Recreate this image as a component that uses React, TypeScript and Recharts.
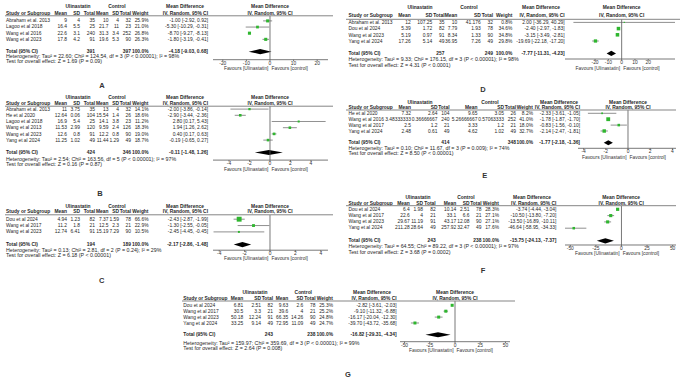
import React from 'react';
import { ScatterChart, Scatter, XAxis, YAxis, ReferenceLine, ReferenceArea } from 'recharts';

type Row = {
  study: string;
  uMean: string; uSd: string; uN: number;
  cMean: string; cSd: string; cN: number;
  weight: number; md: number; lo: number; hi: number;
};
type Total = { uN: number; cN: number; md: number; lo: number; hi: number };

// ---- A ----
const rowsA: Row[] = [
  { study: 'Abraham et al. 2013', uMean: '9', uSd: '4', uN: 35, cMean: '10', cSd: '4', cN: 32, weight: 25.9, md: -1.0, lo: -2.92, hi: 0.92 },
  { study: 'Lagoo et al 2018', uMean: '16.4', uSd: '5.5', uN: 25, cMean: '21.7', cSd: '11', cN: 23, weight: 21.0, md: -5.3, lo: -10.29, hi: -0.31 },
  { study: 'Wang et al 2016', uMean: '22.6', uSd: '3.1', uN: 240, cMean: '31.3', cSd: '3.4', cN: 252, weight: 26.8, md: -8.7, lo: -9.27, hi: -8.13 },
  { study: 'Wang et al 2023', uMean: '17.8', uSd: '4.2', uN: 91, cMean: '19.6', cSd: '5.3', cN: 90, weight: 26.3, md: -1.8, lo: -3.19, hi: -0.41 },
];
const totalA: Total = { uN: 391, cN: 397, md: -4.18, lo: -9.03, hi: 0.68 };
const statsA = ['Heterogeneity: Tau² = 22.60; Chi² = 124.54, df = 3 (P < 0.00001); I² = 98%', 'Test for overall effect: Z = 1.69 (P = 0.09)'];
const ticksA = [-20, -10, 0, 10, 20];

// ---- B ----
const rowsB: Row[] = [
  { study: 'Abraham et al. 2013', uMean: '11', uSd: '3.75', uN: 35, cMean: '13', cSd: '4', cN: 32, weight: 14.1, md: -2.0, lo: -3.86, hi: -0.14 },
  { study: 'He et al 2020', uMean: '12.64', uSd: '0.06', uN: 104, cMean: '15.54', cSd: '1.4', cN: 26, weight: 18.6, md: -2.9, lo: -3.44, hi: -2.36 },
  { study: 'Lagoo et al 2018', uMean: '16.9', uSd: '5.4', uN: 25, cMean: '14.1', cSd: '3.8', cN: 23, weight: 11.2, md: 2.8, lo: 0.17, hi: 5.43 },
  { study: 'Wang et al 2013', uMean: '11.53', uSd: '2.99', uN: 120, cMean: '9.59', cSd: '2.4', cN: 126, weight: 18.3, md: 1.94, lo: 1.26, hi: 2.62 },
  { study: 'Wang et al 2023', uMean: '12.6', uSd: '0.8', uN: 91, cMean: '12.2', cSd: '0.8', cN: 90, weight: 19.0, md: 0.4, lo: 0.17, hi: 0.63 },
  { study: 'Yang et al 2024', uMean: '11.25', uSd: '1.02', uN: 49, cMean: '11.44', cSd: '1.29', cN: 49, weight: 18.7, md: -0.19, lo: -0.65, hi: 0.27 },
];
const totalB: Total = { uN: 424, cN: 346, md: -0.11, lo: -1.48, hi: 1.26 };
const statsB = ['Heterogeneity: Tau² = 2.54; Chi² = 163.56, df = 5 (P < 0.00001); I² = 97%', 'Test for overall effect: Z = 0.16 (P = 0.87)'];
const ticksB = [-4, -2, 0, 2, 4];

// ---- C ----
const rowsC: Row[] = [
  { study: 'Dou et al 2024', uMean: '4.94', uSd: '1.23', uN: 82, cMean: '7.37', cSd: '1.59', cN: 78, weight: 66.6, md: -2.43, lo: -2.87, hi: -1.99 },
  { study: 'Wang et al 2017', uMean: '11.2', uSd: '1.8', uN: 21, cMean: '12.5', cSd: '2.3', cN: 21, weight: 22.9, md: -1.3, lo: -2.55, hi: -0.05 },
  { study: 'Wang et al 2023', uMean: '12.74', uSd: '6.41', uN: 91, cMean: '15.19', cSd: '7.29', cN: 90, weight: 10.5, md: -2.45, lo: -4.45, hi: -0.45 },
];
const totalC: Total = { uN: 194, cN: 189, md: -2.17, lo: -2.86, hi: -1.48 };
const statsC = ['Heterogeneity: Tau² = 0.13; Chi² = 2.81, df = 2 (P = 0.24); I² = 29%', 'Test for overall effect: Z = 6.18 (P < 0.00001)'];
const ticksC = [-4, -2, 0, 2, 4];

// ---- D ----
const rowsD: Row[] = [
  { study: 'Abraham et al. 2013', uMean: '12', uSd: '107.25', uN: 35, cMean: '10', cSd: '41.176', cN: 32, weight: 0.8, md: 2.0, lo: -36.29, hi: 40.29 },
  { study: 'Dou et al 2024', uMean: '5.39', uSd: '1.72', uN: 82, cMean: '7.79', cSd: '1.93', cN: 78, weight: 34.6, md: -2.4, lo: -2.97, hi: -1.83 },
  { study: 'Wang et al 2023', uMean: '5.19', uSd: '0.97', uN: 91, cMean: '8.34', cSd: '1.33', cN: 90, weight: 34.8, md: -3.15, lo: -3.49, hi: -2.81 },
  { study: 'Yang et al 2024', uMean: '17.26', uSd: '5.14', uN: 49, cMean: '36.95', cSd: '7.26', cN: 49, weight: 29.8, md: -19.69, lo: -22.18, hi: -17.2 },
];
const totalD: Total = { uN: 257, cN: 249, md: -7.77, lo: -11.31, hi: -4.23 };
const statsD = ['Heterogeneity: Tau² = 9.33; Chi² = 176.15, df = 3 (P < 0.00001); I² = 98%', 'Test for overall effect: Z = 4.31 (P < 0.0001)'];
const ticksD = [-20, -10, 0, 10, 20];

// ---- E ----
const rowsE: Row[] = [
  { study: 'He et al 2020', uMean: '7.32', uSd: '2.64', uN: 104, cMean: '9.65', cSd: '3.05', cN: 26, weight: 8.2, md: -2.33, lo: -3.61, hi: -1.05 },
  { study: 'Wang et al 2016', uMean: '3.48333333', uSd: '0.36666667', uN: 240, cMean: '5.26666667', cSd: '0.57063333', cN: 252, weight: 41.0, md: -1.78, lo: -1.87, hi: -1.7 },
  { study: 'Wang et al 2017', uMean: '2.5', uSd: '1.2', uN: 21, cMean: '3.33', cSd: '1.2', cN: 21, weight: 18.0, md: -0.83, lo: -1.56, hi: -0.1 },
  { study: 'Yang et al 2024', uMean: '2.48', uSd: '0.61', uN: 49, cMean: '4.62', cSd: '1.02', cN: 49, weight: 32.7, md: -2.14, lo: -2.47, hi: -1.81 },
];
const totalE: Total = { uN: 414, cN: 348, md: -1.77, lo: -2.18, hi: -1.36 };
const statsE = ['Heterogeneity: Tau² = 0.10; Chi² = 11.67, df = 3 (P = 0.009); I² = 74%', 'Test for overall effect: Z = 8.50 (P < 0.00001)'];
const ticksE = [-4, -2, 0, 2, 4];

// ---- F ----
const rowsF: Row[] = [
  { study: 'Dou et al 2024', uMean: '6.4', uSd: '1.98', uN: 82, cMean: '10.14', cSd: '2.51', cN: 78, weight: 28.3, md: -3.74, lo: -4.44, hi: -3.04 },
  { study: 'Wang et al 2017', uMean: '22.6', uSd: '4', uN: 21, cMean: '33.1', cSd: '6.6', cN: 21, weight: 27.1, md: -10.5, lo: -13.8, hi: -7.2 },
  { study: 'Wang et al 2023', uMean: '29.67', uSd: '11.19', uN: 91, cMean: '43.17', cSd: '12.08', cN: 90, weight: 27.1, md: -13.5, lo: -16.89, hi: -10.11 },
  { study: 'Yang et al 2024', uMean: '211.28', uSd: '28.64', uN: 49, cMean: '257.92', cSd: '32.47', cN: 49, weight: 17.6, md: -46.64, lo: -58.95, hi: -34.33 },
];
const totalF: Total = { uN: 243, cN: 238, md: -15.75, lo: -24.13, hi: -7.37 };
const statsF = ['Heterogeneity: Tau² = 64.55; Chi² = 89.22, df = 3 (P < 0.00001); I² = 97%', 'Test for overall effect: Z = 3.68 (P = 0.0002)'];
const ticksF = [-50, -25, 0, 25, 50];

// ---- G ----
const rowsG: Row[] = [
  { study: 'Dou et al 2024', uMean: '6.81', uSd: '2.51', uN: 82, cMean: '9.63', cSd: '2.6', cN: 78, weight: 25.3, md: -2.82, lo: -3.61, hi: -2.03 },
  { study: 'Wang et al 2017', uMean: '30.5', uSd: '3.3', uN: 21, cMean: '39.6', cSd: '4', cN: 21, weight: 25.2, md: -9.1, lo: -11.32, hi: -6.88 },
  { study: 'Wang et al 2023', uMean: '50.18', uSd: '12.24', uN: 91, cMean: '66.35', cSd: '14.26', cN: 90, weight: 24.8, md: -16.17, lo: -20.04, hi: -12.3 },
  { study: 'Yang et al 2024', uMean: '33.25', uSd: '9.14', uN: 49, cMean: '72.95', cSd: '11.09', cN: 49, weight: 24.7, md: -39.7, lo: -43.72, hi: -35.68 },
];
const totalG: Total = { uN: 243, cN: 238, md: -16.82, lo: -29.31, hi: -4.34 };
const statsG = ['Heterogeneity: Tau² = 159.97; Chi² = 359.69, df = 3 (P < 0.00001); I² = 99%', 'Test for overall effect: Z = 2.64 (P = 0.008)'];
const ticksG = [-50, -25, 0, 25, 50];

const colHeads = ['Mean', 'SD', 'Total', 'Mean', 'SD', 'Total', 'Weight', 'IV, Random, 95% CI'];

const FONT = '"Liberation Sans", Arial, sans-serif';
const FS = 4.9;       // table cells
const FS_LONG = 5.3;  // heterogeneity / overall effect lines
const AXIS_H = 10;

const Colors = {
  text: '#262626',
  axis: '#555555',
  rule: '#858585',
  ci: '#606060',
  square: '#2fb62f',
  diamond: '#000000',
};

type Layout = {
  x0: number; lineX0: number; lineX1: number;
  hdr1: number; hdr2: number; lineY: number;
  row0: number; rowH: number; hetY: number; testY: number;
  cols: number[]; grp: number[];
  px0: number; px1: number; domain: [number, number]; axisY: number;
  letter: string; lx: number; ly: number;
};

// right edges of the table columns (left block A/B/C shares them)
const leftCols = [67, 80, 95, 108.5, 119, 131, 148.5, 208];

const layA: Layout = { x0: 6, lineX0: 5, lineX1: 333, hdr1: 6.7, hdr2: 13.3, lineY: 15.8, row0: 20.7, rowH: 6.15, hetY: 56.3, testY: 61.3, cols: leftCols, grp: [78, 117, 185], px0: 213, px1: 328, domain: [-24.15, 24.58], axisY: 59.5, letter: 'A', lx: 102, ly: 85 };
const layB: Layout = { x0: 6, lineX0: 5, lineX1: 333, hdr1: 97, hdr2: 103.7, lineY: 106.2, row0: 109.3, rowH: 6.2, hetY: 158.7, testY: 164.2, cols: leftCols, grp: [78, 117, 185], px0: 213, px1: 328, domain: [-5.56, 5.66], axisY: 160.3, letter: 'B', lx: 100, ly: 193.3 };
const layC: Layout = { x0: 6, lineX0: 5, lineX1: 333, hdr1: 206, hdr2: 211.7, lineY: 214.8, row0: 219, rowH: 6.35, hetY: 250, testY: 255, cols: leftCols, grp: [78, 117, 185], px0: 213, px1: 328, domain: [-4.49, 4.57], axisY: 250, letter: 'C', lx: 101.7, ly: 280.7 };
const layD: Layout = { x0: 348.5, lineX0: 346, lineX1: 680, hdr1: 7.3, hdr2: 15, lineY: 19.3, row0: 22.7, rowH: 6.2, hetY: 59.3, testY: 65, cols: [410.7, 432.3, 444.5, 457.3, 480.7, 493, 512.3, 564.7], grp: [420, 469, 541], px0: 565, px1: 675, domain: [-42.6, 40.1], axisY: 59.3, letter: 'D', lx: 483, ly: 89.3 };
const layE: Layout = { x0: 348.5, lineX0: 346, lineX1: 676, hdr1: 102.3, hdr2: 107.3, lineY: 110, row0: 113.3, rowH: 5.9, hetY: 148.3, testY: 153.3, cols: [411, 437.5, 449.5, 477.5, 504, 516, 533, 580], grp: [420, 490, 559], px0: 578, px1: 676, domain: [-4.5, 4.32], axisY: 148.3, letter: 'E', lx: 484.7, ly: 175 };
const layF: Layout = { x0: 348.5, lineX0: 346, lineX1: 676, hdr1: 197, hdr2: 203, lineY: 205.7, row0: 209, rowH: 6.3, hetY: 246.3, testY: 252, cols: [409.7, 423, 435.7, 456.3, 469.5, 481.5, 499, 556.3], grp: [418, 466, 532], px0: 564.7, px1: 676, domain: [-55.2, 53.6], axisY: 244.7, letter: 'F', lx: 483, ly: 270 };
const layG: Layout = { x0: 183.3, lineX0: 182, lineX1: 515, hdr1: 292.7, hdr2: 298, lineY: 301, row0: 305.3, rowH: 5.9, hetY: 342.5, testY: 347.5, cols: [243.3, 261, 273, 288.3, 303.3, 315.5, 333, 396.7], grp: [255, 303.3, 372], px0: 400, px1: 510, domain: [-54.5, 54.5], axisY: 341.7, letter: 'G', lx: 348, ly: 374.7 };

const panels = [
  { rows: rowsA, total: totalA, stats: statsA, ticks: ticksA, lay: layA },
  { rows: rowsB, total: totalB, stats: statsB, ticks: ticksB, lay: layB },
  { rows: rowsC, total: totalC, stats: statsC, ticks: ticksC, lay: layC },
  { rows: rowsD, total: totalD, stats: statsD, ticks: ticksD, lay: layD },
  { rows: rowsE, total: totalE, stats: statsE, ticks: ticksE, lay: layE },
  { rows: rowsF, total: totalF, stats: statsF, ticks: ticksF, lay: layF },
  { rows: rowsG, total: totalG, stats: statsG, ticks: ticksG, lay: layG },
];

const fmtCI = (t: { md: number; lo: number; hi: number }) => `${t.md.toFixed(2)} [${t.lo.toFixed(2)}, ${t.hi.toFixed(2)}]`;

const zeroOf = (lay: Layout) =>
  lay.px0 + ((0 - lay.domain[0]) / (lay.domain[1] - lay.domain[0])) * (lay.px1 - lay.px0);

// green square, area follows the study weight
const WeightSquare = (props: any) => {
  const { cx, cy, payload } = props;
  if (cx == null || cy == null) return null;
  const s = Math.max(1.2, Math.sqrt(payload.weight / 100) * 6);
  return <rect x={cx - s / 2} y={cy - s / 2} width={s} height={s} fill={Colors.square} />;
};

// pooled estimate diamond drawn inside the ReferenceArea box
const makeDiamond = (t: Total) => (props: any) => {
  const { x, y, width, height } = props;
  if (x == null || width == null) return null;
  const mx = x + (width * (t.md - t.lo)) / (t.hi - t.lo);
  const my = y + height / 2;
  return <polygon points={`${x},${my} ${mx},${y} ${x + width},${my} ${mx},${y + height}`} fill={Colors.diamond} />;
};

const ForestPlot = ({ rows, total, ticks, lay }: { rows: Row[]; total: Total; ticks: number[]; lay: Layout }) => {
  const totalIdx = rows.length + 1;
  const yDomain: [number, number] = [(lay.lineY - lay.row0) / lay.rowH, (lay.axisY - lay.row0) / lay.rowH];
  const points = rows.map((r, i) => ({ x: r.md, y: i, weight: r.weight }));
  return (
    <div style={{ position: 'absolute', left: lay.px0, top: lay.lineY }}>
      <ScatterChart width={lay.px1 - lay.px0} height={lay.axisY - lay.lineY + AXIS_H} margin={{ top: 0, right: 0, bottom: 0, left: 0 }}>
        <XAxis
          type="number"
          dataKey="x"
          domain={lay.domain}
          ticks={ticks}
          interval={0}
          allowDataOverflow
          height={AXIS_H}
          tickSize={1.5}
          tickMargin={0}
          axisLine={{ stroke: Colors.axis, strokeWidth: 0.8 }}
          tickLine={{ stroke: Colors.axis, strokeWidth: 0.8 }}
          tick={{ fontSize: FS, fill: '#333', fontFamily: FONT }}
        />
        <YAxis type="number" dataKey="y" domain={yDomain} reversed hide allowDataOverflow />
        <ReferenceLine x={0} stroke={Colors.axis} strokeWidth={0.8} />
        {rows.map((r, i) => (
          <ReferenceLine
            key={r.study}
            segment={[{ x: r.lo, y: i }, { x: r.hi, y: i }]}
            stroke={Colors.ci}
            strokeWidth={0.7}
            ifOverflow="hidden"
          />
        ))}
        <ReferenceArea
          x1={total.lo}
          x2={total.hi}
          y1={totalIdx - 0.42}
          y2={totalIdx + 0.42}
          shape={makeDiamond(total)}
        />
        <Scatter data={points} shape={WeightSquare} isAnimationActive={false} />
      </ScatterChart>
    </div>
  );
};

const PanelText = ({ rows, total, stats, lay }: { rows: Row[]; total: Total; stats: string[]; lay: Layout }) => {
  const c = lay.cols;
  const rowY = (i: number) => lay.row0 + i * lay.rowH;
  const totY = rowY(rows.length + 1);
  const zx = zeroOf(lay);
  const bold = { fontWeight: 700 };
  return (
    <g>
      {/* group headers */}
      <text x={lay.grp[0]} y={lay.hdr1} textAnchor="middle" {...bold}>Ulinastatin</text>
      <text x={lay.grp[1]} y={lay.hdr1} textAnchor="middle" {...bold}>Control</text>
      <text x={lay.grp[2]} y={lay.hdr1} textAnchor="middle" {...bold}>Mean Difference</text>
      <text x={zx} y={lay.hdr1} textAnchor="middle" {...bold}>Mean Difference</text>

      {/* column headers */}
      <text x={lay.x0} y={lay.hdr2} {...bold}>Study or Subgroup</text>
      {colHeads.map((h, k) => (
        <text key={k} x={c[k]} y={lay.hdr2} textAnchor="end" {...bold}>{h}</text>
      ))}
      <text x={zx} y={lay.hdr2} textAnchor="middle" {...bold}>IV, Random, 95% CI</text>
      <line x1={lay.lineX0} x2={lay.lineX1} y1={lay.lineY} y2={lay.lineY} stroke={Colors.rule} strokeWidth={1} />

      {/* study rows */}
      {rows.map((r, i) => {
        const vals = [r.uMean, r.uSd, r.uN, r.cMean, r.cSd, r.cN, `${r.weight.toFixed(1)}%`, fmtCI(r)];
        return (
          <g key={r.study}>
            <text x={lay.x0} y={rowY(i)}>{r.study}</text>
            {vals.map((v, k) => (
              <text key={k} x={c[k]} y={rowY(i)} textAnchor="end">{v}</text>
            ))}
          </g>
        );
      })}

      {/* total row */}
      <text x={lay.x0} y={totY} {...bold}>Total (95% CI)</text>
      <text x={c[2]} y={totY} textAnchor="end" {...bold}>{total.uN}</text>
      <text x={c[5]} y={totY} textAnchor="end" {...bold}>{total.cN}</text>
      <text x={c[6]} y={totY} textAnchor="end" {...bold}>100.0%</text>
      <text x={c[7]} y={totY} textAnchor="end" {...bold}>{fmtCI(total)}</text>

      <text x={lay.x0} y={lay.hetY} fontSize={FS_LONG}>{stats[0]}</text>
      <text x={lay.x0} y={lay.testY} fontSize={FS_LONG}>{stats[1]}</text>

      {/* favours labels */}
      <text x={zx - 1.5} y={lay.axisY + 8.7} textAnchor="end" fill="#333">Favours [Ulinastatin]</text>
      <text x={zx + 1.5} y={lay.axisY + 8.7} fill="#333">Favours [control]</text>

      <text x={lay.lx} y={lay.ly} textAnchor="middle" fontSize={7.5} fontWeight={700} fill="#333">{lay.letter}</text>
    </g>
  );
};

const App = () => (
  <div style={{ position: 'absolute', left: 0, top: 0, width: 685, height: 379, background: '#fff', overflow: 'hidden', fontFamily: FONT }}>
    {panels.map((p) => (
      <ForestPlot key={p.lay.letter} rows={p.rows} total={p.total} ticks={p.ticks} lay={p.lay} />
    ))}
    <svg width={685} height={379} style={{ position: 'absolute', left: 0, top: 0, pointerEvents: 'none' }}>
      <g fontFamily={FONT} fontSize={FS} fill={Colors.text} dominantBaseline="central">
        {panels.map((p) => (
          <PanelText key={p.lay.letter} rows={p.rows} total={p.total} stats={p.stats} lay={p.lay} />
        ))}
      </g>
    </svg>
  </div>
);

export default App;
